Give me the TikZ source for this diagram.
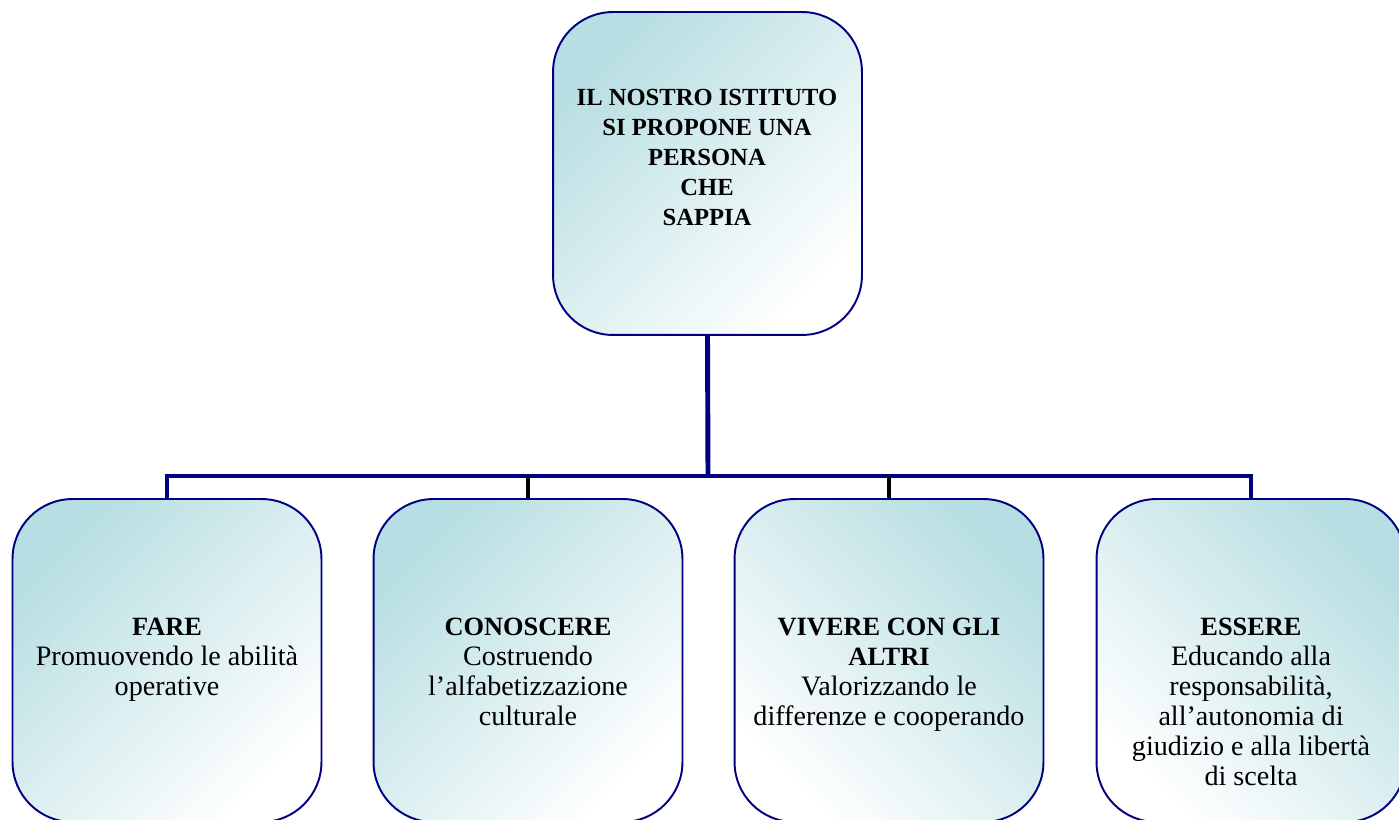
\documentclass[tikz,border=0pt]{standalone}
\usepackage{fontspec}
\setmainfont{Liberation Serif}
\usepackage{xcolor}
\usetikzlibrary{positioning}
\definecolor{boxteal}{RGB}{183,222,226}
\definecolor{boxline}{RGB}{0,0,128}

\begin{document}
\begin{tikzpicture}[x=0.02cm,y=-0.02cm,
	box/.style={draw=boxline, line width=1.1pt, rounded corners=1.2cm, minimum width=6.18cm, minimum height=6.46cm, inner sep=0pt},
	leftshade/.style={top color=boxteal, bottom color=white, shading angle=45},
	rightshade/.style={top color=boxteal, bottom color=white, shading angle=-45},
	txt/.style={align=center, inner sep=0pt, anchor=north, font=\fontsize{16}{17}\selectfont},
	headtxt/.style={txt, font=\fontsize{14}{17}\selectfont\bfseries},
	link/.style={boxline, line width=2.8pt},
	darklink/.style={black, line width=2.8pt}]
	\useasboundingbox (0,0) rectangle (1399,820);
	\clip (0,0) rectangle (1399,820);

	\node[box, leftshade] (istituto) at (707.5,173.5) {};
	\node[box, leftshade] (fare) at (167,660.5) {};
	\node[box, leftshade] (conoscere) at (528,660.5) {};
	\node[box, rightshade] (vivere) at (889,660.5) {};
	\node[box, rightshade] (essere) at (1251,660.5) {};

	\node[headtxt] (istitutotxt) at (707,89) {IL NOSTRO ISTITUTO\\SI PROPONE UNA\\PERSONA\\CHE\\SAPPIA};
	\node[txt] (faretxt) at (167,618) {\textbf{\fontsize{15}{17}\selectfont FARE}\\Promuovendo le abilità\\operative};
	\node[txt] (conosceretxt) at (528,618) {\textbf{\fontsize{15}{17}\selectfont CONOSCERE}\\Costruendo\\l’alfabetizzazione\\culturale};
	\node[txt] (viveretxt) at (889,618) {\textbf{\fontsize{15}{17}\selectfont VIVERE CON GLI}\\\textbf{\fontsize{15}{17}\selectfont ALTRI}\\Valorizzando le\\differenze e cooperando};
	\node[txt] (esseretxt) at (1251,618) {\textbf{\fontsize{15}{17}\selectfont ESSERE}\\Educando alla\\responsabilità,\\all’autonomia di\\giudizio e alla libertà\\di scelta};

	\coordinate (bus) at (708,476);
	\draw[link] (istituto.south) -- (bus);
	\draw[link] (fare.north) |- (bus) -| (essere.north);
	\draw[darklink] (conoscere.north) -- (conoscere.north |- bus);
	\draw[darklink] (vivere.north) -- (vivere.north |- bus);
\end{tikzpicture}
\end{document}
